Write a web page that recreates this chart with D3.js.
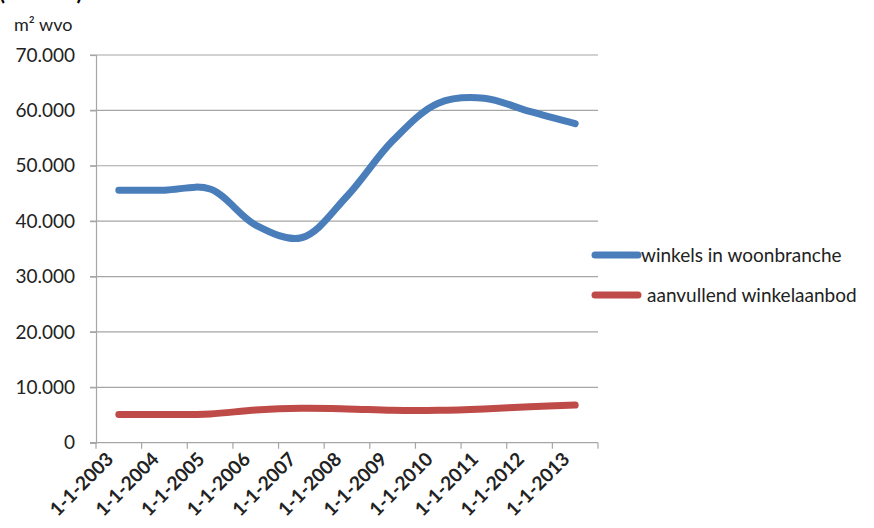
<!DOCTYPE html>
<html>
<head>
<meta charset="utf-8">
<script src="https://cdn.jsdelivr.net/npm/d3@7"></script>
<style>
    body { margin: 0; background: #fff; }
    text { font-family: Lato, "Open Sans", sans-serif; fill: #222; }
</style>
</head>
<body>
<div id="svgCanvas"></div>
<script>
const width = 874, height = 528
const margin = {top: 55, right: 276, bottom: 85.3, left: 96}

const categories = ["1-1-2003", "1-1-2004", "1-1-2005", "1-1-2006", "1-1-2007", "1-1-2008",
    "1-1-2009", "1-1-2010", "1-1-2011", "1-1-2012", "1-1-2013"]
const winkelsWoonbranche = [45600, 45600, 45800, 39300, 37000, 44500, 54500, 61300, 62200, 59800, 57600]
const aanvullendAanbod = [5100, 5100, 5200, 5900, 6200, 6100, 5850, 5850, 6100, 6500, 6800]
const seriesNames = ["winkels in woonbranche", "aanvullend winkelaanbod"]
const seriesColors = ["#4a7ebb", "#be4b48"]
const yTicks = [0, 10000, 20000, 30000, 40000, 50000, 60000, 70000]

const nl = d3.formatLocale({decimal: ",", thousands: ".", grouping: [3], currency: ["", ""]})
const fmt = nl.format(",")

const xScale = d3.scaleBand().domain(categories).range([margin.left, width - margin.right])
const yScale = d3.scaleLinear().domain([0, 70000]).range([height - margin.bottom, margin.top])

const svg = d3.select("#svgCanvas")
    .append("svg")
    .attr("width", width)
    .attr("height", height)

// title line above, cut off by the top edge like in the original
svg.append("text")
    .attr("x", -1)
    .attr("y", 0)
    .style("font-size", "22px")
    .style("font-weight", "bold")
    .style("fill", "#000")
    .text("(m² wvo)")

svg.append("text")
    .attr("x", 14)
    .attr("y", 31)
    .style("font-size", "18px")
    .text("m² wvo")

// horizontal gridlines
svg.append("g")
    .selectAll("line")
    .data(yTicks.filter(d => d > 0))
    .enter().append("line")
    .attr("x1", margin.left - 6)
    .attr("x2", width - margin.right)
    .attr("y1", d => yScale(d))
    .attr("y2", d => yScale(d))
    .attr("stroke", "#a6a6a6")
    .attr("stroke-width", 1.2)

// y axis
const yAxis = svg.append("g")
    .attr("transform", "translate(" + margin.left + ",0)")
    .call(d3.axisLeft(yScale).tickValues(yTicks).tickFormat(fmt).tickSize(6).tickPadding(15))
yAxis.select(".domain").attr("stroke", "#a6a6a6").attr("stroke-width", 1.2)
yAxis.selectAll(".tick line").attr("stroke", "#a6a6a6").attr("stroke-width", 1.2)
yAxis.selectAll(".tick text")
    .style("font-size", "19px")
    .style("font-family", "Lato, sans-serif")
    .attr("fill", "#222")

// x axis: line, ticks between categories, rotated labels
const x0 = margin.left, x1 = width - margin.right, yBase = yScale(0)
svg.append("line")
    .attr("x1", x0 - 6).attr("x2", x1)
    .attr("y1", yBase).attr("y2", yBase)
    .attr("stroke", "#a6a6a6").attr("stroke-width", 1.2)

const edges = categories.map(c => xScale(c)).concat([x1])
svg.append("g")
    .selectAll("line")
    .data(edges)
    .enter().append("line")
    .attr("x1", d => d).attr("x2", d => d)
    .attr("y1", yBase).attr("y2", yBase + 6)
    .attr("stroke", "#a6a6a6").attr("stroke-width", 1.2)

svg.append("g")
    .selectAll("text")
    .data(categories)
    .enter().append("text")
    .attr("transform", d => "translate(" + (xScale(d) + xScale.bandwidth() / 2 - 9) + "," + (yBase + 13) + ") rotate(-45)")
    .attr("text-anchor", "end")
    .attr("dy", "0.35em")
    .style("font-size", "19px")
    .style("font-weight", "bold")
    .text(d => d)

// smoothed lines
const line = d3.line()
    .x((d, i) => xScale(categories[i]) + xScale.bandwidth() / 2)
    .y(d => yScale(d))
    .curve(d3.curveCatmullRom.alpha(0.5))

;[winkelsWoonbranche, aanvullendAanbod].forEach((values, i) => {
    svg.append("path")
        .datum(values)
        .attr("d", line)
        .attr("fill", "none")
        .attr("stroke", seriesColors[i])
        .attr("stroke-width", 7)
        .attr("stroke-linecap", "round")
        .attr("stroke-linejoin", "round")
})

// legend
const legendY = [255, 295], legendTextX = [641, 647]
seriesNames.forEach((name, i) => {
    svg.append("line")
        .attr("x1", 595).attr("x2", 638)
        .attr("y1", legendY[i]).attr("y2", legendY[i])
        .attr("stroke", seriesColors[i])
        .attr("stroke-width", 7)
        .attr("stroke-linecap", "round")
    svg.append("text")
        .attr("x", legendTextX[i])
        .attr("y", legendY[i])
        .attr("dy", "0.35em")
        .style("font-size", "19px")
        .text(name)
})
</script>
</body>
</html>
